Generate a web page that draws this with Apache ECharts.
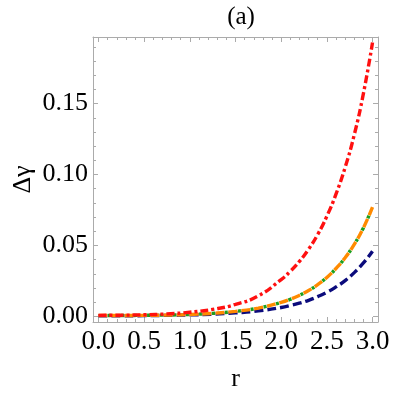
<!DOCTYPE html>
<html>
<head>
<meta charset="utf-8">
<script src="https://cdn.jsdelivr.net/npm/echarts@6/dist/echarts.min.js"></script>
<style>
  html, body { margin: 0; padding: 0; background: #fff; }
  #chart { width: 416px; height: 396px; }
</style>
</head>
<body>
<div id="chart"></div>
<script>
// 数据
const rValues = [0, 0.25, 0.5, 0.75, 1.0, 1.25, 1.5, 1.75, 2.0, 2.1, 2.2, 2.3, 2.4, 2.5, 2.6, 2.7, 2.8, 2.9, 3.0]
const redValues = [0.0008, 0.0009, 0.0012, 0.0018, 0.0030, 0.0050, 0.0085, 0.0145, 0.026, 0.0318, 0.0388, 0.0474, 0.0578, 0.0706, 0.0862, 0.105, 0.128, 0.157, 0.193]
const orangeValues = [0.0007, 0.0007, 0.0008, 0.0010, 0.0014, 0.0022, 0.0036, 0.0059, 0.0099, 0.0121, 0.0149, 0.0183, 0.0224, 0.0275, 0.0338, 0.0414, 0.0508, 0.0624, 0.077]
const greenValues = [0.0007, 0.0007, 0.0008, 0.0010, 0.0014, 0.0022, 0.0036, 0.0059, 0.0099, 0.0121, 0.0149, 0.0183, 0.0224, 0.0275, 0.0338, 0.0414, 0.0508, 0.0624, 0.077]
const navyValues = [0.0005, 0.0005, 0.0006, 0.0008, 0.0011, 0.0016, 0.0025, 0.0039, 0.0063, 0.0077, 0.0094, 0.0114, 0.0140, 0.0170, 0.0208, 0.0253, 0.0309, 0.0377, 0.046]

// 刻度
const xTicks = [0, 0.5, 1.0, 1.5, 2.0, 2.5, 3.0]
const xMinorTicks = [0.1, 0.2, 0.3, 0.4, 0.6, 0.7, 0.8, 0.9, 1.1, 1.2, 1.3, 1.4, 1.6, 1.7, 1.8, 1.9, 2.1, 2.2, 2.3, 2.4, 2.6, 2.7, 2.8, 2.9]
const yTicks = [0, 0.05, 0.10, 0.15]
const yMinorTicks = [0.01, 0.02, 0.03, 0.04, 0.06, 0.07, 0.08, 0.09, 0.11, 0.12, 0.13, 0.14, 0.16, 0.17, 0.18, 0.19]

const font = "'Liberation Serif', 'Times New Roman', Times, serif"
const frameColor = '#ababab'

const pairs = (ys) => rValues.map((r, i) => [r, ys[i]])

// 坐标轴（主刻度 + 次刻度，四边都有）
function makeAxis(kind, position, major, minor, withLabel) {
  const isX = kind === 'x'
  const base = {
    type: 'value',
    position,
    min: isX ? -0.06 : -0.0039,
    max: isX ? 3.06 : 0.1969,
    splitLine: { show: false }
  }
  const main = Object.assign({}, base, {
    axisLine: { show: true, onZero: false, lineStyle: { color: frameColor, width: 1 } },
    axisTick: { show: true, inside: true, length: 5, customValues: major, lineStyle: { color: frameColor } },
    axisLabel: withLabel
      ? {
          show: true,
          customValues: major,
          margin: isX ? 6 : 5,
          color: '#000',
          fontFamily: font,
          fontSize: isX ? 27 : 26,
          formatter: (v) => (isX ? v.toFixed(1) : v.toFixed(2))
        }
      : { show: false }
  })
  const sub = Object.assign({}, base, {
    axisLine: { show: false, onZero: false },
    axisTick: { show: true, inside: true, length: 3, customValues: minor, lineStyle: { color: frameColor } },
    axisLabel: { show: false }
  })
  return [main, sub]
}

const xAxes = [...makeAxis('x', 'bottom', xTicks, xMinorTicks, true), ...makeAxis('x', 'top', xTicks, xMinorTicks, false)]
const yAxes = [...makeAxis('y', 'left', yTicks, yMinorTicks, true), ...makeAxis('y', 'right', yTicks, yMinorTicks, false)]

xAxes[0].name = 'r'
xAxes[0].nameLocation = 'middle'
xAxes[0].nameGap = 44
xAxes[0].nameMoveOverlap = false
xAxes[0].nameTextStyle = { color: '#000', fontFamily: font, fontSize: 26 }

yAxes[0].name = 'Δγ'
yAxes[0].nameLocation = 'middle'
yAxes[0].nameGap = 57
yAxes[0].nameRotate = 90
yAxes[0].nameMoveOverlap = false
yAxes[0].nameTextStyle = { color: '#000', fontFamily: font, fontSize: 26 }

const lineSeries = (data, color, type, extra) =>
  Object.assign(
    {
      type: 'line',
      xAxisIndex: 0,
      yAxisIndex: 0,
      data: pairs(data),
      smooth: true,
      showSymbol: false,
      silent: true,
      lineStyle: { color, width: 3.4, type, cap: 'butt' }
    },
    extra || {}
  )

const option = {
  animation: false,
  backgroundColor: '#fff',
  title: {
    text: '(a)',
    left: 236,
    top: 0,
    textAlign: 'center',
    textStyle: { color: '#000', fontFamily: font, fontSize: 25, fontWeight: 'normal' }
  },
  grid: { left: 93, top: 37, width: 285, height: 285, outerBoundsMode: 'none', containLabel: false },
  xAxis: xAxes,
  yAxis: yAxes,
  series: [
    lineSeries(navyValues, '#0b0b7c', [9, 4]),
    lineSeries(orangeValues, '#ff8a00', [9, 4]),
    lineSeries(greenValues, '#1c9e1c', [3, 10], { lineStyle: { color: '#1c9e1c', width: 3.4, type: [3, 10], dashOffset: 3.5, cap: 'butt' } }),
    lineSeries(redValues, '#ff1010', [8, 3, 3, 3])
  ]
}

const myChart = echarts.init(document.getElementById('chart'))
myChart.setOption(option)
</script>
</body>
</html>
